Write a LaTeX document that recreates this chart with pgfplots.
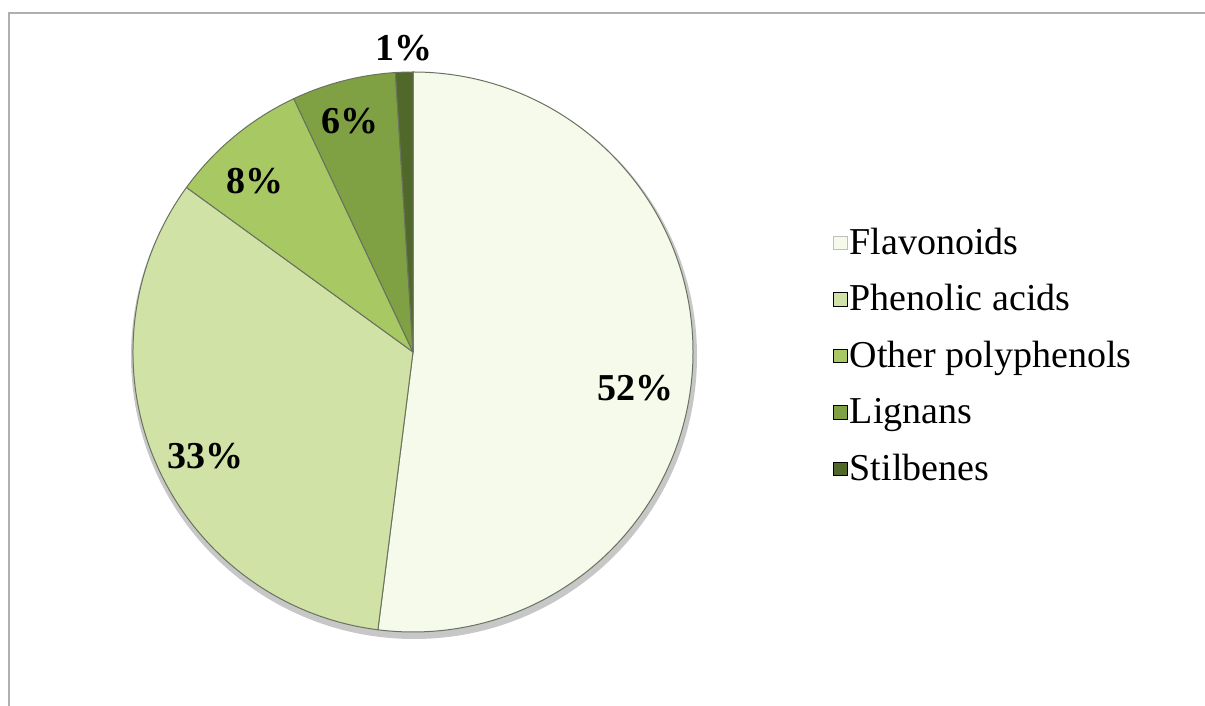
\documentclass[border=0pt]{standalone}
\usepackage{pgfplots}
\pgfplotsset{compat=1.18}
\usepackage{pgfplotstable}
\usepackage{fontspec}
\setmainfont{Liberation Serif}

\definecolor{pc0}{RGB}{245,250,234}
\definecolor{pc1}{RGB}{209,226,166}
\definecolor{pc2}{RGB}{167,200,98}
\definecolor{pc3}{RGB}{128,160,68}
\definecolor{pc4}{RGB}{80,104,42}
\definecolor{edgecol}{RGB}{105,115,95}
\definecolor{framecol}{RGB}{175,175,175}

% share of each group, in %
\pgfplotstableread{
name value
Flavonoids 52
{Phenolic acids} 33
{Other polyphenols} 8
Lignans 6
Stilbenes 1
}\pietable

\begin{document}
\begin{tikzpicture}
\begin{axis}[
  scale only axis,
  width=602.5bp, height=353bp,
  xmin=0, xmax=1205, ymin=0, ymax=706,
  hide axis, clip=false,
  legend cell align=left,
  legend image code/.code={\fill[#1] (0bp,-1.4bp) rectangle (6.8bp,5.4bp);},
  legend style={at={(axis cs:833,476)}, anchor=north west,
    draw=none, fill=none, inner sep=0pt,
    font=\fontsize{19bp}{22bp}\selectfont,
    row sep=11.75bp,
    nodes={inner sep=1bp, text height=11bp, text depth=3.5bp}},
]
% frame
\draw[framecol, line width=1bp] (axis cs:9,0) -- (axis cs:9,693) -- (axis cs:1205,693);
% soft shadow
\fill[black!22] (axis cs:414,350) circle[radius=141.5bp];

\def\sa{90}
\pgfplotsforeachungrouped \i in {0,...,4}{%
  \pgfplotstablegetelem{\i}{value}\of\pietable
  \pgfmathsetmacro\ea{\sa-3.6*\pgfplotsretval}%
  \edef\temp{\noexpand\fill[fill=pc\i, draw=edgecol, line width=0.5bp, line join=round]
    (axis cs:413,354) -- ++(\sa:140bp) arc[start angle=\sa, end angle=\ea, radius=140bp] -- cycle;}%
  \temp
  \global\let\sa\ea
}

\addlegendimage{fill=pc0, draw=black!25}\addlegendentry{Flavonoids}
\addlegendimage{fill=pc1}\addlegendentry{Phenolic acids}
\addlegendimage{fill=pc2}\addlegendentry{Other polyphenols}
\addlegendimage{fill=pc3}\addlegendentry{Lignans}
\addlegendimage{fill=pc4}\addlegendentry{Stilbenes}

\begin{scope}[every node/.style={font=\fontsize{19bp}{22bp}\selectfont\bfseries}]
\node at (axis cs:635,318) {52\%};
\node at (axis cs:205,250) {33\%};
\node at (axis cs:255,525) {8\%};
\node at (axis cs:350,585) {6\%};
\node at (axis cs:404,658) {1\%};
\end{scope}
\end{axis}
\pgfresetboundingbox
\path[use as bounding box] (current axis.south west) rectangle (current axis.north east);
\end{tikzpicture}
\end{document}
